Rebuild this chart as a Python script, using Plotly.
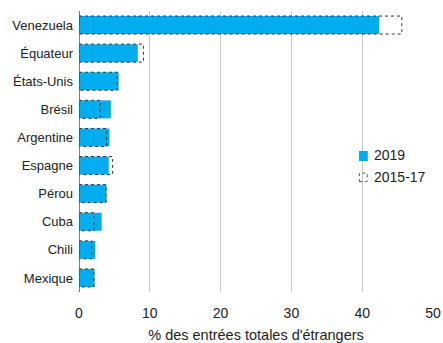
import plotly.graph_objects as go

countries = ["Venezuela", "Équateur", "États-Unis", "Brésil", "Argentine",
             "Espagne", "Pérou", "Cuba", "Chili", "Mexique"]
v2019 = [42.4, 8.3, 5.6, 4.5, 4.3, 4.2, 3.9, 3.2, 2.3, 2.2]
v2015_17 = [45.6, 9.1, 5.4, 3.0, 3.9, 4.75, 3.8, 2.1, 1.8, 2.1]
x_ticks = [0, 10, 20, 30, 40, 50]
series_names = ["2019", "2015-17"]

BLUE = "#00AEEF"
FONT = "Liberation Sans, Arial, sans-serif"
half = 0.32
pos = list(range(len(countries)))

fig = go.Figure()
fig.add_trace(go.Bar(
    x=v2019, y=pos, orientation="h", name=series_names[0], showlegend=False,
    marker=dict(color=BLUE, line=dict(width=0)), width=2 * half,
))

# dashed outline boxes for 2015-17
xs, ys = [], []
for p, v in zip(pos, v2015_17):
    xs += [0, v, v, 0, 0, None]
    ys += [p - half, p - half, p + half, p + half, p - half, None]
fig.add_trace(go.Scatter(
    x=xs, y=ys, mode="lines", name=series_names[1], showlegend=False,
    hoverinfo="skip", line=dict(color="#333333", width=1, dash="dot"),
))

# manual legend (paper coordinates)
shapes = [
    dict(type="line", xref="x", yref="paper", x0=0, x1=0, y0=0, y1=1,
         line=dict(color="#555555", width=1.5)),
    dict(type="rect", xref="paper", yref="paper", x0=0.791, x1=0.816,
         y0=0.466, y1=0.502, fillcolor=BLUE, line=dict(width=0)),
    dict(type="rect", xref="paper", yref="paper", x0=0.792, x1=0.814,
         y0=0.393, y1=0.423, fillcolor="rgba(0,0,0,0)",
         line=dict(color="#555555", width=1, dash="dot")),
]
annotations = [
    dict(text=series_names[0], xref="paper", yref="paper", x=0.828, y=0.4875,
         xanchor="left", yanchor="middle", showarrow=False, font=dict(size=14)),
    dict(text=series_names[1], xref="paper", yref="paper", x=0.828, y=0.409,
         xanchor="left", yanchor="middle", showarrow=False, font=dict(size=14)),
]

fig.update_layout(
    width=443, height=343,
    margin=dict(l=79, r=10, t=11, b=51, autoexpand=False),
    plot_bgcolor="white", paper_bgcolor="white",
    font=dict(family=FONT, size=13, color="#222222"),
    showlegend=False,
    xaxis=dict(range=[0, 50], tickvals=x_ticks, ticktext=[str(t) for t in x_ticks],
               showgrid=True, gridcolor="#c8c8c8", gridwidth=1,
               zeroline=False, showline=False, ticks="", automargin=False,
               tickfont=dict(size=14), ticklabelstandoff=11,
               ticklabeloverflow="allow",
               title=dict(text="% des entrées totales d'étrangers",
                          font=dict(size=14.5), standoff=10)),
    yaxis=dict(range=[len(countries) - 0.5, -0.5], tickvals=pos, ticktext=countries,
               showgrid=False, zeroline=False, showline=False, ticks="",
               automargin=False, tickfont=dict(size=13), ticklabelstandoff=5),
    shapes=shapes,
    annotations=annotations,
)

fig.write_html("out.html",
               config={"displayModeBar": False},
               post_script="document.body.style.margin='0';"
                           "document.body.style.overflow='hidden';")
